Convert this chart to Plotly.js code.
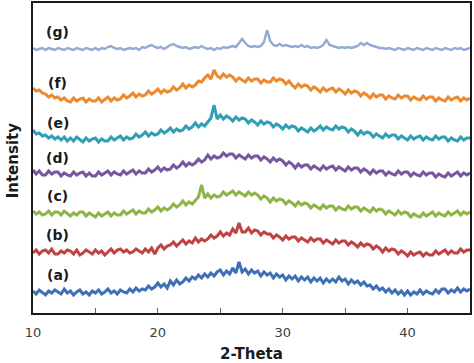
<!DOCTYPE html>
<html>
<head>
<meta charset="utf-8">
<script src="https://cdn.plot.ly/plotly-3.0.1.min.js"></script>
<style>html,body{margin:0;padding:0;background:#fff;}#chart{width:474px;height:363px;}</style>
</head>
<body>
<div id="chart"></div>
<script>
// Scan grid: 2-Theta from 10 to 45 deg, step 0.25 deg
const scanStart = 10;
const scanStep = 0.25;

// Sample names (labels drawn on the chart)
const sampleLabels = ["(a)", "(b)", "(c)", "(d)", "(e)", "(f)", "(g)"];

// Vertical stacking offsets of each pattern (a.u.)
const offsets = [21, 61, 100, 138, 173, 213, 264];

// Intensities (a.u.), one value per 0.25 deg
const intensityA = [
 1,-2,2,-1, -3,1,-1,2, 0,-2,3,-1, 1,-3,0,2, -2,0,-3,1, -1,2,-2,0, 3,-1,1,-2, 2,0,-1,3,
 0,4,1,3, 2,6,3,5, 9,5,8,4, 11,7,12,8, 10,14,11,15, 13,17,14,18, 15,19,16,20, 22,17,21,18,
 24,19,30,20, 23,18,22,19, 21,16,20,17, 19,14,18,15, 17,12,16,13, 16,11,15,12, 15,10,14,11,
 14,9,13,10, 13,10,15,11, 13,8,12,9, 11,7,10,6, 7,3,6,2, 4,0,3,-1, 2,-2,1,-3, 1,-3,0,-2,
 2,-2,1,-1, -2,2,-1,3, 3,-1,2,0, 4,0,3,1, 3];
const intensityB = [
 -1,2,-2,1, 2,-1,3,-2, -2,1,-1,2, 1,-2,2,-3, -1,2,0,-2, 2,-1,1,-3, 0,3,-1,2, 3,0,2,-1,
 0,3,1,-1, 3,0,4,-2, 4,7,3,6, 7,10,6,9, 12,8,11,9, 14,10,13,11, 13,17,14,16, 20,16,19,17,
 23,19,29,20, 20,24,19,22, 21,17,20,18, 18,14,17,15, 12,16,13,15, 15,11,14,12, 10,14,11,13,
 13,9,12,10, 8,12,9,11, 11,7,10,8, 5,9,6,8, 7,3,6,4, 0,4,1,3, 2,-2,1,-1, -4,0,-3,-1,
 0,-4,-1,-3, -3,1,-2,0, 2,-2,1,-1, -1,3,0,2, 2];
const intensityC = [
 2,-1,1,-2, -1,2,-2,1, 1,-2,2,-1, -3,0,-2,1, 1,-3,0,-2, -4,0,-3,-1, 1,-3,0,-2, -2,2,-1,1,
 3,-1,2,0, 0,4,1,3, 6,2,5,3, 5,9,6,8, 12,8,11,9, 12,16,28,15, 19,15,18,16, 17,21,18,20,
 22,18,21,19, 17,21,18,20, 18,14,17,15, 11,15,12,14, 13,9,12,10, 7,11,8,10, 9,5,8,6,
 4,8,5,7, 7,3,6,4, 3,7,4,6, 6,2,5,3, 1,5,2,4, 3,-1,2,0, -2,2,-1,1, 0,-4,-1,-3,
 -4,0,-3,-1, 1,-3,0,-2, -3,1,-2,0, 2,-2,1,-1, 1];
const intensityD = [
 5,1,4,0, 0,4,1,3, 3,-1,2,0, -1,3,0,2, 3,-1,2,-1, -1,3,0,2, 4,0,3,1, 0,4,1,3,
 5,1,4,2, 2,6,3,5, 8,4,7,5, 6,10,7,9, 13,9,12,10, 12,16,13,15, 20,16,19,17, 18,22,19,21,
 21,17,20,18, 16,20,17,19, 19,15,18,16, 13,17,14,16, 14,10,13,11, 7,11,8,10, 10,6,9,7,
 5,9,6,8, 9,5,8,6, 4,8,5,7, 7,3,6,4, 1,5,2,4, 4,0,3,1, 0,4,1,3, 3,-1,2,0,
 -1,3,0,2, 2,-2,1,-1, -2,2,-1,1, 3,-1,2,0, 2];
const intensityE = [
 10,6,7,4, 5,2,4,1, 3,0,3,-1, 2,-1,3,0, -2,2,-1,1, 2,-2,1,-1, -1,3,0,2, 4,0,3,1,
 2,6,3,5, 8,4,7,5, 6,10,7,9, 12,8,11,9, 10,14,11,13, 17,13,16,14, 18,22,35,21, 25,21,24,22,
 19,23,20,22, 21,17,20,18, 15,19,16,18, 17,13,16,14, 11,15,12,14, 13,9,12,10, 8,12,9,11,
 14,10,13,11, 10,14,11,13, 12,8,11,9, 5,9,6,8, 7,3,6,4, 2,6,3,5, 5,1,4,2, 0,4,1,3,
 4,0,3,1, 0,4,1,3, 3,-1,2,0, -1,3,0,2, 2];
const intensityF = [
 12,9,10,7, 6,3,5,2, 3,0,2,-1, -2,2,-1,1, 2,-2,1,-1, -1,2,-2,1, 3,-1,2,0, 1,5,2,4,
 7,3,6,4, 5,9,6,8, 11,7,10,8, 9,13,10,12, 16,12,15,13, 15,19,18,22, 25,21,30,24, 22,26,23,25,
 23,19,22,20, 18,22,19,21, 21,17,20,18, 18,22,19,21, 20,16,19,15, 12,16,13,15, 14,10,13,11,
 8,12,9,11, 12,8,11,9, 6,10,7,9, 8,4,7,5, 2,6,3,5, 5,1,4,2, 1,5,2,4, 4,0,3,1,
 0,4,1,3, 3,-1,2,0, -1,3,0,2, 3,-1,2,0, 2];
const intensityG = [
 1,-1,0,1, -1,1,0,-1, 1,0,-1,1, 0,-1,1,0, -1,1,0,-1, 1,-1,1,0, 2,3,1,0, 1,-1,0,1,
 0,1,-1,2, 1,3,4,2, 1,2,0,2, 4,5,3,2, 1,2,0,1, 2,1,3,1, 0,1,-1,1, 0,2,1,2,
 3,2,6,10, 6,3,2,3, 2,3,7,19, 8,4,3,5, 3,4,3,2, 3,2,4,2, 3,1,2,1,
 2,4,9,4, 3,2,1,2, 1,2,1,2, 3,6,4,6, 4,3,2,1, 1,0,1,0, -1,1,0,-1, 1,0,-1,1,
 0,-1,1,0, -1,1,0,-1, 1,0,-1,1, 0,1,-1,0, 1];

const patterns = [intensityA, intensityB, intensityC, intensityD, intensityE, intensityF, intensityG];

// Axis ticks
const xTickValues = [10, 15, 20, 25, 30, 35, 40];
const xTickLabels = ["10", "", "20", "", "30", "", "40"];

// Styles
const colors = ["#3f6fb6", "#bf4441", "#8db545", "#7a55a0", "#2f9fb8", "#ec8a30", "#93a9d6"];
const lineWidths = [3, 3, 3, 3, 3, 3, 2.4];

const twoTheta = intensityA.map((_, i) => scanStart + i * scanStep);

const traces = patterns.map((vals, k) => ({
  type: "scatter",
  mode: "lines",
  x: twoTheta,
  y: vals.map(v => v + offsets[k]),
  line: {color: colors[k], width: lineWidths[k]},
  hoverinfo: "skip",
  showlegend: false
}));

const annotations = sampleLabels.map((t, k) => ({
  x: 12, y: offsets[k] + 17, xref: "x", yref: "y",
  text: "<b>" + t + "</b>", showarrow: false,
  font: {family: "DejaVu Sans", size: 14, color: "#1a1a1a"},
  xanchor: "center", yanchor: "middle"
}));

// y-axis title drawn as a rotated annotation so it sits close to the frame
annotations.push({
  x: -0.047, y: 0.494, xref: "paper", yref: "paper",
  text: "<b>Intensity</b>", showarrow: false, textangle: -90,
  font: {family: "DejaVu Sans", size: 15, color: "#1a1a1a"},
  xanchor: "center", yanchor: "middle"
});

const layout = {
  width: 474, height: 363,
  margin: {l: 33, r: 4, t: 3, b: 50},
  paper_bgcolor: "#fff", plot_bgcolor: "#fff",
  font: {family: "DejaVu Sans", size: 13, color: "#404040"},
  xaxis: {
    range: [10, 45], tickvals: xTickValues, ticktext: xTickLabels,
    ticks: "inside", ticklen: 5, tickwidth: 1, tickcolor: "#666",
    ticklabelstandoff: 7,
    showline: true, linecolor: "#1a1a1a", linewidth: 1.6, mirror: true,
    showgrid: false, zeroline: false,
    tickfont: {family: "DejaVu Sans", size: 13, color: "#404040"},
    title: {text: "<b>2-Theta</b>", font: {family: "DejaVu Sans", size: 15, color: "#1a1a1a"}, standoff: 15}
  },
  yaxis: {
    range: [0, 310], showticklabels: false, ticks: "",
    showline: true, linecolor: "#1a1a1a", linewidth: 1.6, mirror: true,
    showgrid: false, zeroline: false
  },
  annotations: annotations
};

Plotly.newPlot("chart", traces, layout, {displayModeBar: false, staticPlot: true});
</script>
</body>
</html>
